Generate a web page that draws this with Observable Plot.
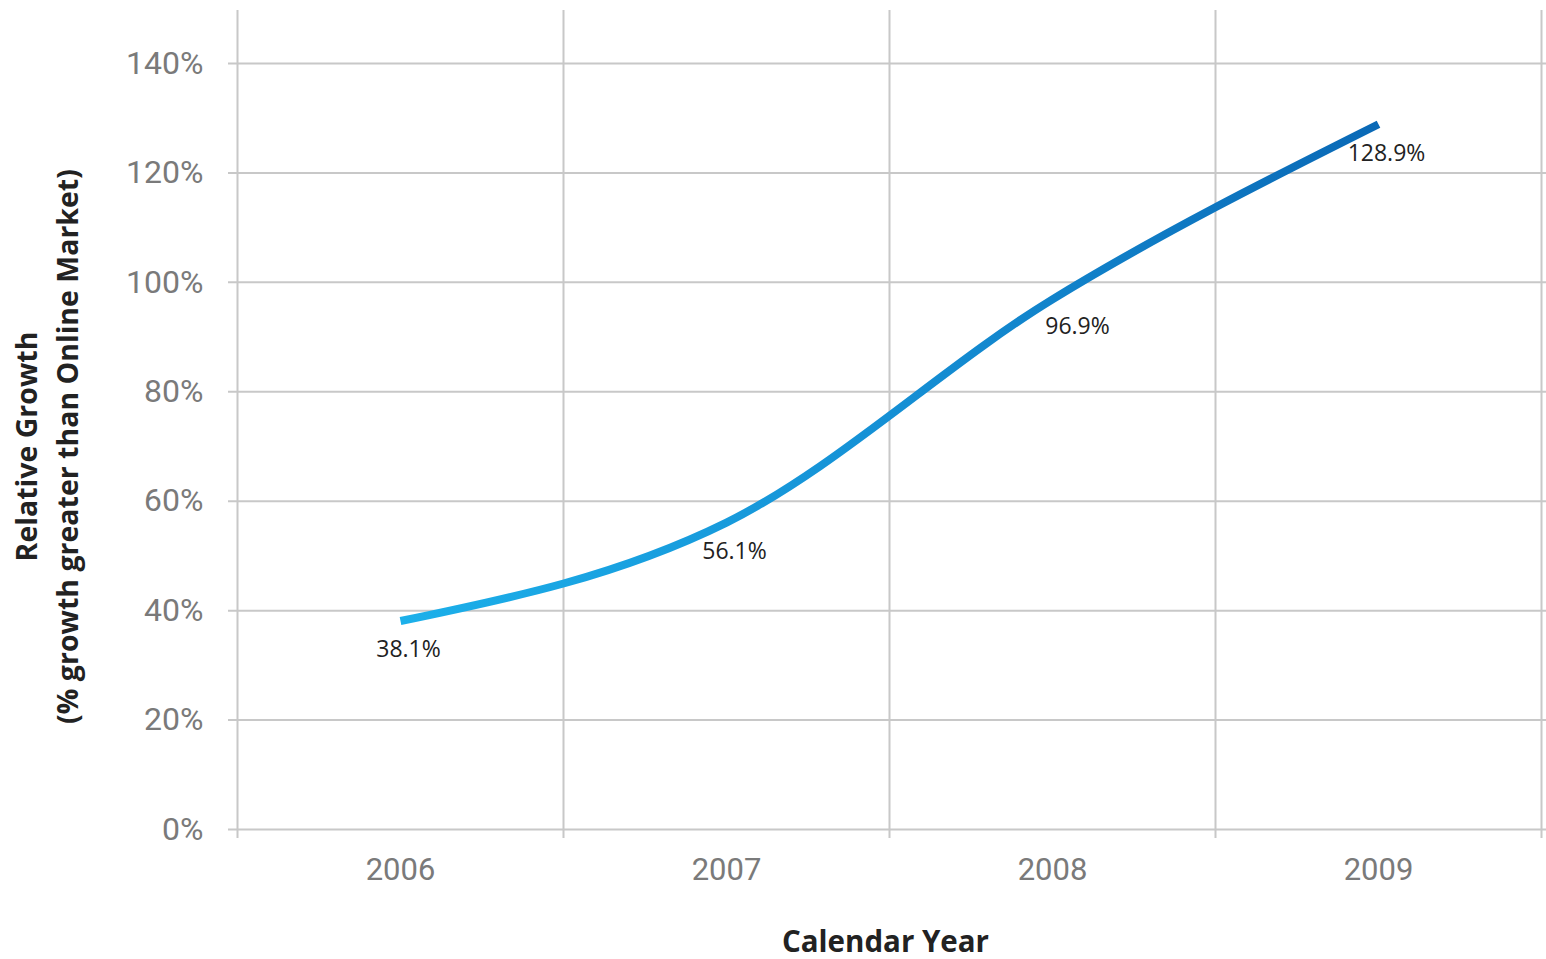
<!DOCTYPE html>
<html>
<head>
<meta charset="utf-8">
<script src="https://cdn.jsdelivr.net/npm/d3@7"></script>
<script src="https://cdn.jsdelivr.net/npm/@observablehq/plot@0.6"></script>
<style>
  html, body { margin: 0; padding: 0; background: #fff; }
  #chart svg { display: block; }
</style>
</head>
<body>
<div id="chart"></div>
<script>
const years = [2006, 2007, 2008, 2009];
const growth = [38.1, 56.1, 96.9, 128.9];
const yTicks = [0, 20, 40, 60, 80, 100, 120, 140];
const xTitle = "Calendar Year";
const yTitle = "Relative Growth\n(% growth greater than Online Market)";

const data = years.map((year, i) => ({year, value: growth[i]}));
const bounds = years.map(y => y - 0.5).concat([years[years.length - 1] + 0.5]);

const gradient = () => {
  const defs = d3.create("svg:defs");
  const g = defs.append("linearGradient").attr("id", "lineGrad")
    .attr("x1", "0").attr("x2", "1").attr("y1", "0").attr("y2", "0");
  g.append("stop").attr("offset", "0%").attr("stop-color", "#1cb0ea");
  g.append("stop").attr("offset", "50%").attr("stop-color", "#1590d5");
  g.append("stop").attr("offset", "100%").attr("stop-color", "#0a69b6");
  return defs.node();
};

const chart = Plot.plot({
  width: 1546,
  height: 959,
  marginLeft: 237,
  marginRight: 5,
  marginTop: 63,
  marginBottom: 130,
  style: {fontFamily: "Roboto, 'Noto Sans', sans-serif", background: "#fff"},
  x: {domain: [bounds[0], bounds[bounds.length - 1]], ticks: years, tickFormat: "d", label: null},
  y: {domain: [0, 140], ticks: yTicks, label: null},
  marks: [
    gradient,
    Plot.ruleY(yTicks, {stroke: "#c8c8c8", strokeWidth: 2, insetLeft: -9, insetRight: -5}),
    Plot.ruleX(bounds, {stroke: "#c8c8c8", strokeWidth: 2, insetTop: -53, insetBottom: -9}),
    Plot.axisY({ticks: yTicks, tickSize: 0, tickPadding: 34, tickFormat: d => d + "%", fontSize: 32, color: "#7a7a7a", label: null}),
    Plot.axisX({ticks: years, tickSize: 0, tickPadding: 28, tickFormat: "d", fontSize: 31, color: "#7a7a7a", label: null}),
    Plot.line(data, {x: "year", y: "value", curve: "monotone-x", stroke: "url(#lineGrad)", strokeWidth: 8, strokeLinecap: "butt"}),
    Plot.text(data.filter(d => d.year !== 2008), {x: "year", y: "value", text: d => d.value.toFixed(1) + "%", dy: 29, dx: 8, fontSize: 23, fontFamily: "'Open Sans', sans-serif", fill: "#222"}),
    Plot.text(data.filter(d => d.year === 2008), {x: "year", y: "value", text: d => d.value.toFixed(1) + "%", dy: 27, dx: 25, fontSize: 23, fontFamily: "'Open Sans', sans-serif", fill: "#222"}),
    Plot.text([xTitle], {frameAnchor: "bottom", dy: 122, dx: -4, fontSize: 29.5, fontWeight: "bold", fontFamily: "'Open Sans', sans-serif", fill: "#222"}),
    Plot.text([yTitle], {frameAnchor: "left", dx: -193, rotate: -90, textAnchor: "middle", lineHeight: 1.42, fontSize: 28.5, fontWeight: "bold", fontFamily: "'Open Sans', sans-serif", fill: "#222"})
  ]
});
document.getElementById("chart").appendChild(chart);
</script>
</body>
</html>
